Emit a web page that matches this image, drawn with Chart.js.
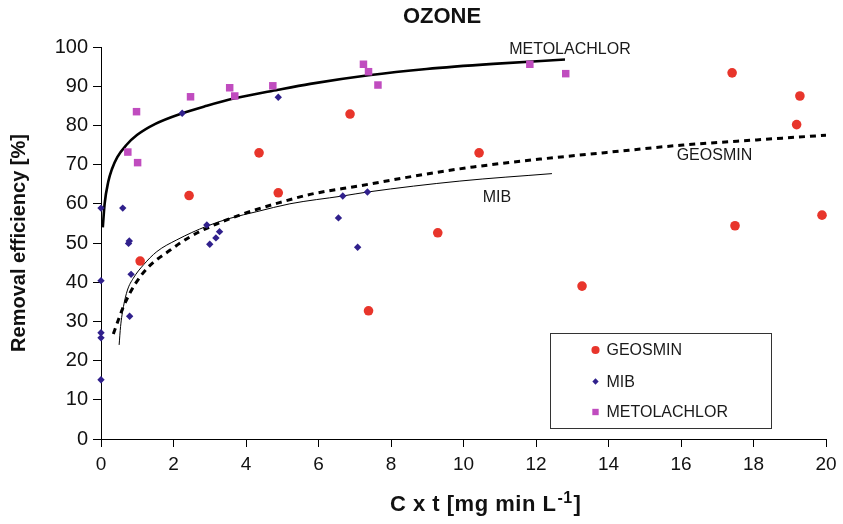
<!DOCTYPE html>
<html><head><meta charset="utf-8">
<script src="https://cdn.jsdelivr.net/npm/chart.js@4.4.1/dist/chart.umd.min.js"></script>
<style>html,body{margin:0;padding:0;background:#fff;}canvas{display:block;}</style>
</head><body>
<canvas id="c" width="843" height="524"></canvas>
<script>
const FAMILY = '"Liberation Sans", Arial, sans-serif';
const RED = '#e8352b';
const NAVY = '#30208c';
const MAGENTA = '#c04cbf';

const chartTitle = 'OZONE';
const xTitleMain = 'C x t [mg min L';
const xTitleSup = '-1';
const xTitleEnd = ']';
const seriesNames = ['GEOSMIN', 'MIB', 'METOLACHLOR'];
const xTickValues = [0, 2, 4, 6, 8, 10, 12, 14, 16, 18, 20];
const yTickValues = [0, 10, 20, 30, 40, 50, 60, 70, 80, 90, 100];

const geosminX = [1.08, 2.43, 4.36, 4.89, 6.87, 7.38, 9.29, 10.43, 13.27, 17.41, 17.49, 19.19, 19.28, 19.89];
const geosminY = [45.4, 62.1, 73.0, 62.8, 82.9, 32.7, 52.6, 73.0, 39.0, 93.4, 54.4, 80.2, 87.5, 57.1];

const mibX = [0.0, 0.0, 0.0, 0.0, 0.0, 0.60, 0.76, 0.78, 0.79, 0.83, 2.24, 2.92, 3.00, 3.17, 3.27, 4.89, 6.55, 6.67, 7.08, 7.35];
const mibY = [58.9, 40.4, 27.1, 25.8, 15.1, 58.9, 49.9, 50.5, 31.3, 42.0, 83.1, 54.6, 49.7, 51.3, 52.9, 87.2, 56.4, 62.0, 48.9, 63.0];

const metolachlorX = [0.74, 0.98, 1.01, 2.47, 3.55, 3.69, 4.74, 7.24, 7.38, 7.64, 11.83, 12.82];
const metolachlorY = [73.2, 83.5, 70.5, 87.3, 89.6, 87.5, 90.1, 95.6, 93.7, 90.3, 95.6, 93.2];

// trend curves
const metTrendX = [0.05, 0.1, 0.2, 0.3, 0.45, 0.7, 1.0, 1.5, 2.24, 2.92, 3.69, 4.89, 5.77, 7.38, 8.98, 10.82, 12.8];
const metTrendY = [54.0, 60.0, 65.6, 68.8, 71.9, 75.0, 77.6, 80.4, 83.1, 85.0, 86.9, 89.1, 90.6, 92.8, 94.4, 95.7, 96.8];

const mibTrendX = [0.50, 0.54, 0.62, 0.73, 0.89, 1.17, 1.54, 2.09, 2.92, 3.56, 4.30, 5.21, 6.67, 7.35, 9.90, 12.44];
const mibTrendY = [24.0, 28.7, 33.8, 38.0, 41.0, 44.4, 47.8, 50.8, 54.3, 56.3, 58.0, 60.0, 62.0, 63.0, 65.8, 67.7];

const geoTrendX = [0.34, 0.48, 0.62, 0.94, 1.32, 1.88, 2.46, 3.05, 3.88, 4.85, 5.77, 7.14, 8.98, 10.27, 12.11, 13.95, 16.06, 18.09, 20.0];
const geoTrendY = [26.8, 30.4, 33.8, 39.5, 44.0, 48.0, 51.6, 54.3, 57.3, 60.1, 62.4, 64.6, 67.6, 69.4, 71.4, 73.1, 75.0, 76.3, 77.5];

// curve labels (left edge x, middle y in data units)
const curveLabels = ['METOLACHLOR', 'GEOSMIN', 'MIB'];
const curveLabelX = [11.26, 15.88, 10.53];
const curveLabelY = [99.4, 72.3, 61.7];

const pts = (xs, ys) => xs.map((x, i) => ({x, y: ys[i]}));

const markerStyles = [
  {pointStyle: 'circle', radius: 4.8, color: RED},
  {pointStyle: 'rectRot', radius: 3.7, color: NAVY},
  {pointStyle: 'rect', radius: 5.3, color: MAGENTA}
];

const overlayPlugin = {
  id: 'overlay',
  afterDatasetsDraw(chart) {
    const {ctx, scales: {x, y}, chartArea: a} = chart;
    ctx.save();
    // chart title
    ctx.font = 'bold 22px ' + FAMILY;
    ctx.fillStyle = '#111';
    ctx.textAlign = 'center';
    ctx.textBaseline = 'middle';
    ctx.fillText(chartTitle, a.left + 341, a.top - 30);
    // x-axis title with superscript
    ctx.textAlign = 'left';
    ctx.textBaseline = 'alphabetic';
    if ('letterSpacing' in ctx) ctx.letterSpacing = '0.5px';
    let tx = a.left + 289;
    const ty = a.bottom + 72;
    ctx.font = 'bold 22px ' + FAMILY;
    ctx.fillText(xTitleMain, tx, ty);
    tx += ctx.measureText(xTitleMain).width + 1;
    ctx.font = 'bold 16px ' + FAMILY;
    ctx.fillText(xTitleSup, tx, ty - 8);
    tx += ctx.measureText(xTitleSup).width + 1;
    ctx.font = 'bold 22px ' + FAMILY;
    ctx.fillText(xTitleEnd, tx, ty);
    if ('letterSpacing' in ctx) ctx.letterSpacing = '0px';
    // curve labels
    ctx.font = '16px ' + FAMILY;
    ctx.fillStyle = '#1a1a1a';
    ctx.textBaseline = 'middle';
    ctx.textAlign = 'left';
    curveLabels.forEach((t, i) => ctx.fillText(t, x.getPixelForValue(curveLabelX[i]), y.getPixelForValue(curveLabelY[i])));
    // legend box
    const bx = Math.round(a.left + 449) + 0.5, by = Math.round(a.top + 286) + 0.5, bw = 221, bh = 95;
    ctx.fillStyle = '#fff';
    ctx.fillRect(bx, by, bw, bh);
    ctx.strokeStyle = '#333';
    ctx.lineWidth = 1;
    ctx.strokeRect(bx, by, bw, bh);
    const rowY = [16.5, 48, 78.5];
    seriesNames.forEach((name, i) => {
      const m = markerStyles[i];
      ctx.fillStyle = m.color;
      ctx.strokeStyle = m.color;
      Chart.helpers.drawPoint(ctx, {pointStyle: m.pointStyle, radius: m.radius * 0.85, borderWidth: 0, rotation: 0}, bx + 45, by + rowY[i]);
      ctx.fillStyle = '#1a1a1a';
      ctx.font = '16px ' + FAMILY;
      ctx.fillText(name, bx + 56, by + rowY[i] + 1);
    });
    ctx.restore();
  }
};

const scatterSet = (i, xs, ys) => ({
  label: seriesNames[i],
  data: pts(xs, ys),
  pointStyle: markerStyles[i].pointStyle,
  pointRadius: markerStyles[i].radius,
  pointHoverRadius: markerStyles[i].radius,
  backgroundColor: markerStyles[i].color,
  borderColor: markerStyles[i].color,
  pointBorderWidth: 0,
  showLine: false,
  clip: false
});

const trendSet = (label, xs, ys, width, dash) => ({
  label,
  data: pts(xs, ys),
  showLine: true,
  pointRadius: 0,
  pointHoverRadius: 0,
  borderColor: '#000',
  backgroundColor: '#000',
  borderWidth: width,
  borderDash: dash,
  cubicInterpolationMode: 'monotone',
  fill: false
});

new Chart(document.getElementById('c'), {
  type: 'scatter',
  data: {
    datasets: [
      scatterSet(0, geosminX, geosminY),
      scatterSet(1, mibX, mibY),
      scatterSet(2, metolachlorX, metolachlorY),
      trendSet('METOLACHLOR trend', metTrendX, metTrendY, 2.6, []),
      trendSet('MIB trend', mibTrendX, mibTrendY, 1, []),
      trendSet('GEOSMIN trend', geoTrendX, geoTrendY, 3, [6, 5])
    ]
  },
  options: {
    responsive: false,
    animation: false,
    devicePixelRatio: 1,
    layout: {padding: {left: 0, right: 17, top: 47, bottom: 0}},
    plugins: {
      legend: {display: false},
      tooltip: {enabled: false},
      title: {display: false}
    },
    scales: {
      x: {
        type: 'linear', min: 0, max: 20,
        afterBuildTicks: s => { s.ticks = xTickValues.map(v => ({value: v})); },
        afterFit: s => { s.height = 85; s.paddingLeft = 0; s.paddingRight = 0; },
        ticks: {font: {size: 19, family: FAMILY}, color: '#111', padding: 6, maxRotation: 0, autoSkip: false},
        grid: {display: true, drawOnChartArea: false, drawTicks: true, tickLength: 8, color: '#000', lineWidth: 1},
        border: {display: true, color: '#000', width: 1},
        title: {display: false}
      },
      y: {
        type: 'linear', min: 0, max: 100,
        afterBuildTicks: s => { s.ticks = yTickValues.map(v => ({value: v})); },
        afterFit: s => { s.width = 101; s.paddingTop = 0; s.paddingBottom = 0; },
        ticks: {font: {size: 20, family: FAMILY}, color: '#111', padding: 5, autoSkip: false},
        grid: {display: true, drawOnChartArea: false, drawTicks: true, tickLength: 8, color: '#000', lineWidth: 1},
        border: {display: true, color: '#000', width: 1},
        title: {display: true, text: 'Removal efficiency [%]', color: '#111',
          font: {size: 20, weight: 'bold', family: FAMILY}, padding: {top: 7, bottom: 0}}
      }
    }
  },
  plugins: [overlayPlugin]
});
</script>
</body></html>
